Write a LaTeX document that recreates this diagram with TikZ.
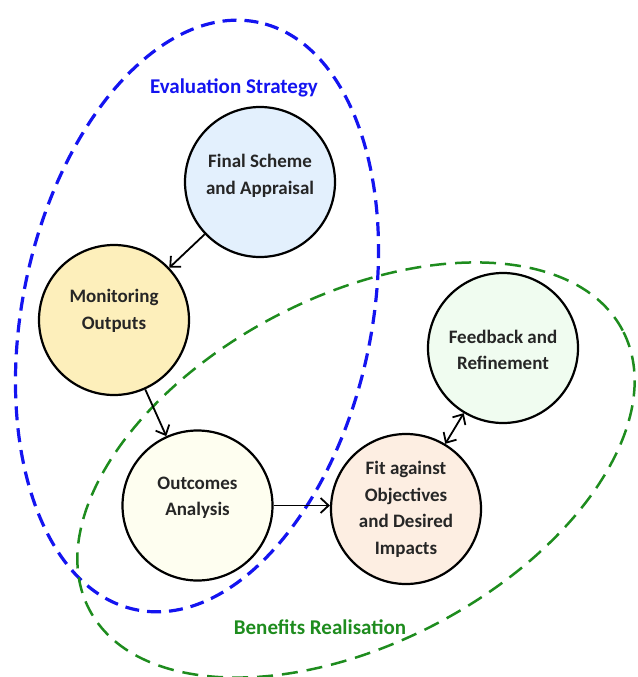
\documentclass[tikz,border=0pt]{standalone}
\usepackage{fontspec}
\setmainfont{Carlito}
\usetikzlibrary{arrows.meta}
\definecolor{cFinal}{RGB}{227,240,253}
\definecolor{cMon}{RGB}{253,239,187}
\definecolor{cOut}{RGB}{254,254,240}
\definecolor{cFit}{RGB}{253,238,226}
\definecolor{cFeed}{RGB}{240,252,240}
\definecolor{evalblue}{RGB}{20,20,240}
\definecolor{bengreen}{RGB}{30,140,30}
\begin{document}
\begin{tikzpicture}[x=1pt,y=-1pt,
  stage/.style={circle,draw=black,line width=2.2pt,minimum size=150pt,inner sep=0pt},
  stagetext/.style={align=center,font=\bfseries\fontsize{19}{26.5}\selectfont,text=black!85},
  grouplabel/.style={font=\bfseries\fontsize{21}{24}\selectfont},
  flow/.style={line width=1.8pt,-{Straight Barb[length=8pt,width=15pt,line width=1.8pt]}},
  twoway/.style={line width=1.8pt,{Straight Barb[length=8pt,width=15pt,line width=1.8pt]}-{Straight Barb[length=8pt,width=15pt,line width=1.8pt]}},
  bluedash/.style={draw=evalblue,line width=3.2pt,dash pattern=on 14pt off 8pt},
  greendash/.style={draw=bengreen,line width=2.5pt,dash pattern=on 16pt off 9pt}]
\useasboundingbox (0,0) rectangle (637,677);
% group outlines
\draw[bluedash,shift={(197,316)},rotate=78.2] (0,0) ellipse [x radius=300pt,y radius=174.5pt];
\draw[greendash,shift={(356,470)},rotate=27.6] (0,0) ellipse [x radius=301pt,y radius=173.5pt];
% stages
\node[stage,fill=cFinal] (final) at (260,182) {};
\node[stage,fill=cMon] (mon) at (114,320) {};
\node[stage,fill=cOut] (out) at (197.5,505.5) {};
\node[stage,fill=cFit] (fit) at (406,509) {};
\node[stage,fill=cFeed] (feed) at (503,348) {};
\node[stagetext] (tfinal) at (260,176) {Final Scheme\\and Appraisal};
\node[stagetext] (tmon) at (114,311) {Monitoring\\Outputs};
\node[stagetext] (tout) at (197.5,498) {Outcomes\\Analysis};
\node[stagetext] (tfit) at (406,509.5) {Fit against\\Objectives\\and Desired\\Impacts};
\node[stagetext] (tfeed) at (503,350) {Feedback and\\Refinement};
% labels
\node[grouplabel,text=evalblue] (leval) at (234,88) {Evaluation Strategy};
\node[grouplabel,text=bengreen] (lben) at (320,627) {Benefits Realisation};
% connectors
\draw[flow] (final) -- (mon);
\draw[flow] (mon) -- (out);
\draw[flow] (out.east) -- (out.east -| fit.west);
\draw[twoway] (fit) -- (feed);
\end{tikzpicture}
\end{document}
